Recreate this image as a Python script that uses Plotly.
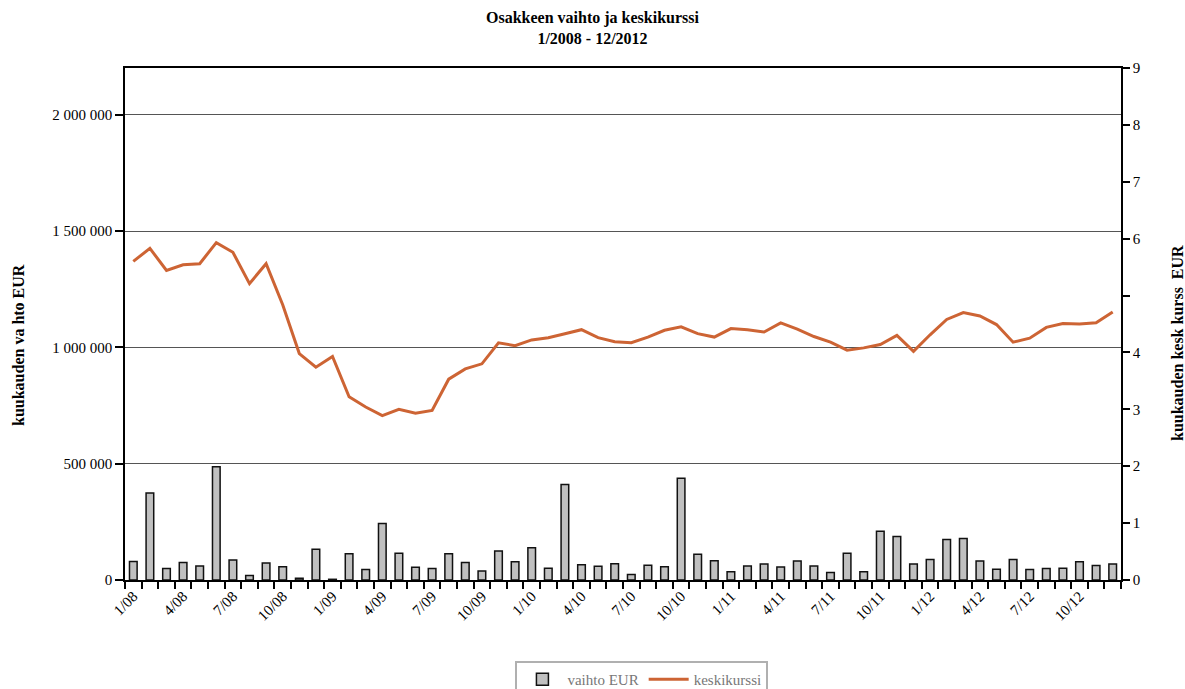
import plotly.graph_objects as go

# --- data -------------------------------------------------------------
years = ["08", "09", "10", "11", "12"]
months = [f"{m}/{y}" for y in years for m in range(1, 13)]

vaihto_eur = [80000, 374000, 49000, 75000, 60000, 487000, 86000, 19000, 73000, 57000, 7000, 132000,
              3000, 113000, 45000, 243000, 115000, 55000, 49000, 113000, 75000, 39000, 125000, 78000,
              139000, 50000, 411000, 66000, 59000, 70000, 24000, 63000, 57000, 438000, 111000, 83000,
              36000, 60000, 69000, 56000, 82000, 60000, 32000, 115000, 36000, 210000, 187000, 69000,
              88000, 174000, 178000, 82000, 46000, 88000, 45000, 49000, 50000, 79000, 62000, 69000]

keskikurssi = [5.60, 5.83, 5.44, 5.54, 5.56, 5.93, 5.76, 5.21, 5.56, 4.84, 3.98, 3.74,
               3.93, 3.22, 3.04, 2.89, 3.00, 2.93, 2.98, 3.53, 3.71, 3.80, 4.17, 4.12,
               4.22, 4.26, 4.33, 4.40, 4.26, 4.19, 4.17, 4.27, 4.39, 4.45, 4.33, 4.27,
               4.42, 4.40, 4.36, 4.52, 4.41, 4.28, 4.18, 4.04, 4.08, 4.14, 4.30, 4.02,
               4.31, 4.58, 4.70, 4.64, 4.49, 4.18, 4.25, 4.44, 4.51, 4.50, 4.52, 4.71]

left_tickvals = [0, 500000, 1000000, 1500000, 2000000]
left_ticktext = ["0", "500 000", "1 000 000", "1 500 000", "2 000 000"]
right_tickvals = [0, 1, 2, 3, 4, 5, 6, 7, 8, 9]
right_ticktext = ["0", "1", "2", "3", "4", "", "6", "7", "8", "9"]

x_idx = list(range(len(months)))
label_idx = [i for i, m in enumerate(months) if m.split("/")[0] in ("1", "4", "7", "10")]
label_txt = [months[i] for i in label_idx]

FONT = "Liberation Serif, Times New Roman, serif"
LINE_COLOR = "#cd6434"

fig = go.Figure()
fig.add_trace(go.Bar(
    x=x_idx, y=vaihto_eur, name="vaihto EUR",
    marker=dict(color="#c0c0c0", line=dict(color="#111111", width=1.5)),
    customdata=months, hovertemplate="%{customdata}: %{y}<extra></extra>",
))
fig.add_trace(go.Scatter(
    x=x_idx, y=keskikurssi, name="keskikurssi", yaxis="y2", mode="lines",
    line=dict(color=LINE_COLOR, width=3),
    customdata=months, hovertemplate="%{customdata}: %{y}<extra></extra>",
))

fig.update_layout(
    width=1185, height=689,
    margin=dict(l=125, r=64, t=68, b=109, autoexpand=False),
    paper_bgcolor="white", plot_bgcolor="white",
    font=dict(family=FONT, size=15, color="black"),
    bargap=0.54,
    title=dict(text="<b>Osakkeen vaihto ja keskikurssi<br>1/2008 - 12/2012</b>",
               x=0.5, xref="container", xanchor="center",
               y=0.966, yref="container", yanchor="top",
               font=dict(family=FONT, size=16, color="black")),
    xaxis=dict(
        range=[-0.5, len(months) - 0.5],
        tickmode="array", tickvals=label_idx, ticktext=label_txt,
        tickangle=-45, ticks="", showgrid=False, zeroline=False,
        showline=True, linecolor="black", linewidth=1.5, mirror=True,
        tickfont=dict(family=FONT, size=15),
        minor=dict(tickmode="linear", tick0=-0.5, dtick=1, ticks="outside",
                   ticklen=7, tickwidth=1.5, tickcolor="black", showgrid=False),
    ),
    yaxis=dict(
        range=[0, 2202000],
        tickmode="array", tickvals=left_tickvals, ticktext=left_ticktext,
        ticks="outside", ticklen=8, tickwidth=1.5, tickcolor="black",
        showgrid=True, gridcolor="#555555", gridwidth=1,
        zeroline=False, showline=True, linecolor="black", linewidth=1.5,
        tickfont=dict(family=FONT, size=15),
    ),
    yaxis2=dict(
        range=[0, 9], overlaying="y", side="right",
        tickmode="array", tickvals=right_tickvals, ticktext=right_ticktext,
        ticks="outside", ticklen=7, tickwidth=1.5, tickcolor="black",
        showgrid=False, zeroline=False, showline=True, linecolor="black", linewidth=1.5,
        tickfont=dict(family=FONT, size=15),
    ),
    legend=dict(orientation="h", x=0.519, xanchor="center", y=-0.158, yanchor="top",
                bordercolor="#b0b0b0", borderwidth=2, bgcolor="white", itemwidth=40,
                font=dict(family=FONT, size=15, color="#777777")),
    showlegend=True,
    annotations=[
        dict(text="<b>kuukauden va hto EUR</b>", textangle=-90, showarrow=False,
             xref="paper", yref="paper", x=(18 - 125) / 996, y=(580 - 345) / 512,
             xanchor="center", yanchor="middle", font=dict(family=FONT, size=16)),
        dict(text="<b>kuukauden kesk kurss  EUR</b>", textangle=-90, showarrow=False,
             xref="paper", yref="paper", x=(1177 - 125) / 996, y=(580 - 343) / 512,
             xanchor="center", yanchor="middle", font=dict(family=FONT, size=16)),
    ],
)

fig.write_html("out.html", config={"displayModeBar": False},
               post_script="document.body.style.margin='0';")
